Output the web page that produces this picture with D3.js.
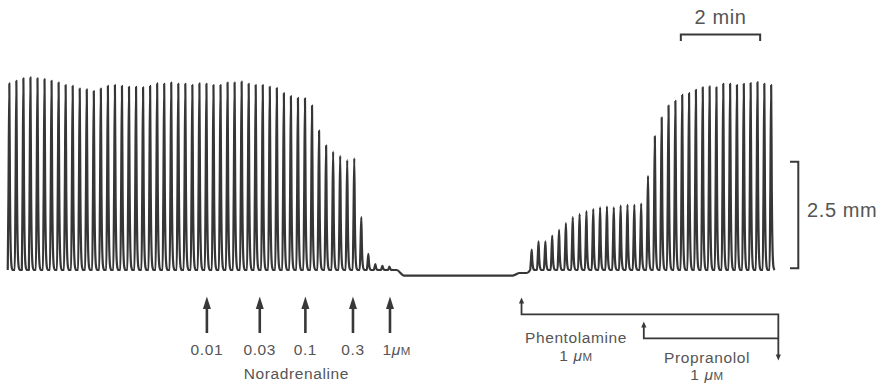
<!DOCTYPE html>
<html>
<head>
<meta charset="utf-8">
<script src="https://cdn.jsdelivr.net/npm/d3@7"></script>
<style>
  html, body { margin: 0; padding: 0; background: #fff; }
  svg { display: block; }
  .lbl { font-family: "Liberation Sans", Arial, sans-serif; fill: #555; letter-spacing: 0.6px; }
</style>
</head>
<body>
<div id="chart"></div>
<script>
// peak tension (mm) of each beat
const controlPeaks = [
  4.38, 4.44, 4.50, 4.52, 4.50, 4.48, 4.44, 4.40, 4.34, 4.32,
  4.26, 4.24, 4.20, 4.26, 4.32, 4.34, 4.32, 4.30, 4.30, 4.29,
  4.32, 4.38, 4.37, 4.40, 4.37, 4.37, 4.34, 4.38, 4.37, 4.34,
  4.34, 4.40, 4.40, 4.42, 4.37, 4.34, 4.34, 4.30, 4.27, 4.15,
  4.08, 4.04, 4.03, 3.86, 3.27, 2.92, 2.78, 2.68, 2.58, 2.62,
  1.24, 0.38, 0.14, 0.10, 0.08
];
const recoveryPeaks = [
  0.48, 0.67, 0.67, 0.81, 0.94, 1.10, 1.24, 1.31, 1.38, 1.43,
  1.47, 1.49, 1.47, 1.51, 1.53, 1.53, 1.56, 2.21, 3.14, 3.58,
  3.86, 3.97, 4.11, 4.15, 4.23, 4.29, 4.31, 4.29, 4.37, 4.37,
  4.34, 4.37, 4.39, 4.41, 4.37, 4.34
];
// beat timing (s)
const controlStart = 14.1, controlPeriod = 10.65;
const recoveryStart = 804.4, recoveryPeriod = 10.35;
// quiescent stretch between the two runs: [time s, tension mm]
const quiescent = [[600, 0], [611, -0.13], [776, -0.13], [786, -0.07], [797, -0.07]];

// drug additions
const noradDoses = ['0.01', '0.03', '0.1', '0.3', '1'];
const noradTimes = [313, 393, 462, 534, 590];
const phentolamineTime = 789;
const propranololTime = 974;
const washoutTime = 1177.5;

// calibration bars
const timeBar = [1030, 1150];   // 2 min
const tensionBar = [0.04, 2.54]; // 2.5 mm

// one beat: [offset s, fraction of peak]
const beatShape = [[-2.4, 0], [-1.3, 0.4], [0, 1], [1.0, 0.42], [2.3, 0.09], [3.6, 0.015], [5.2, 0]];

const width = 884, height = 385;
const x = d3.scaleLinear().domain([0, 1200]).range([0, 793.2]);
const y = d3.scaleLinear().domain([0, 2.5]).range([270, 163.5]);

const svg = d3.select('#chart').append('svg')
  .attr('width', width)
  .attr('height', height);

// build the trace
function beats(peaks, start, period) {
  let pts = [];
  peaks.forEach((a, i) => {
    let t0 = start + i * period;
    beatShape.forEach(s => pts.push([t0 + s[0], a * s[1]]));
  });
  return pts;
}
let trace = []
  .concat(beats(controlPeaks, controlStart, controlPeriod))
  .concat(quiescent)
  .concat(beats(recoveryPeaks, recoveryStart, recoveryPeriod));

let line = d3.line()
  .x(d => x(d[0]))
  .y(d => y(d[1]))
  .curve(d3.curveMonotoneX);

svg.append('path')
  .datum(trace)
  .attr('d', line)
  .attr('fill', 'none')
  .attr('stroke', '#363636')
  .attr('stroke-width', 2.2)
  .attr('stroke-linejoin', 'round');

// noradrenaline arrows
let ink = '#383838';
let nor = svg.append('g');
noradTimes.forEach((t, i) => {
  let cx = x(t);
  nor.append('line')
    .attr('x1', cx).attr('x2', cx)
    .attr('y1', 333).attr('y2', 306)
    .attr('stroke', ink).attr('stroke-width', 2.6);
  nor.append('path')
    .attr('d', `M${cx},296.5 L${cx - 4},309 L${cx + 4},309 Z`)
    .attr('fill', ink);
  if (i < noradDoses.length - 1) {
    nor.append('text').attr('class', 'lbl')
      .attr('x', cx).attr('y', 355)
      .attr('text-anchor', 'middle')
      .attr('font-size', 15.5)
      .text(noradDoses[i]);
  } else {
    let tx = nor.append('text').attr('class', 'lbl')
      .attr('x', cx - 7.5).attr('y', 355)
      .attr('font-size', 15.5);
    tx.append('tspan').text(noradDoses[i]);
    tx.append('tspan').attr('font-style', 'italic').text('\u03bc');
    tx.append('tspan').attr('font-size', 11.5).text('M');
  }
});
nor.append('text').attr('class', 'lbl')
  .attr('x', (x(noradTimes[1]) + x(noradTimes[3])) / 2 - 10)
  .attr('y', 379)
  .attr('text-anchor', 'middle')
  .attr('font-size', 15.5)
  .text('Noradrenaline');

// antagonist brackets
let xe = x(washoutTime);
let ant = svg.append('g').attr('fill', 'none').attr('stroke', ink).attr('stroke-width', 1.8);
ant.append('path').attr('d', `M${x(phentolamineTime)},302 V314.3 H${xe} V355`);
ant.append('path').attr('d', `M${x(propranololTime)},326 V338.3 H${xe}`);
let heads = svg.append('g').attr('fill', ink);
heads.append('path').attr('d', `M${x(phentolamineTime)},297.5 l-2.6,6 h5.2 Z`);
heads.append('path').attr('d', `M${x(propranololTime)},321.5 l-2.6,6 h5.2 Z`);
heads.append('path').attr('d', `M${xe},360.5 l-2.6,-6 h5.2 Z`);

function unitLabel(cx, cy, name) {
  svg.append('text').attr('class', 'lbl')
    .attr('x', cx).attr('y', cy)
    .attr('text-anchor', 'middle')
    .attr('font-size', 15.5)
    .text(name);
  let t = svg.append('text').attr('class', 'lbl')
    .attr('x', cx).attr('y', cy + 17.5)
    .attr('text-anchor', 'middle')
    .attr('font-size', 15.5);
  t.append('tspan').text('1 ');
  t.append('tspan').attr('font-style', 'italic').text('\u03bc');
  t.append('tspan').attr('font-size', 11.5).text('M');
}
unitLabel(576, 343, 'Phentolamine');
unitLabel(707, 362.5, 'Propranolol');

// calibration: time
let cal = svg.append('g').attr('fill', 'none').attr('stroke', ink).attr('stroke-width', 2);
cal.append('path')
  .attr('d', `M${x(timeBar[0])},41 V34.5 H${x(timeBar[1])} V41`);
svg.append('text').attr('class', 'lbl')
  .attr('x', (x(timeBar[0]) + x(timeBar[1])) / 2)
  .attr('y', 23.5)
  .attr('text-anchor', 'middle')
  .attr('font-size', 20)
  .text('2 min');

// calibration: tension
cal.append('path')
  .attr('d', `M790,${y(tensionBar[1])} H798.3 V${y(tensionBar[0])} H790`);
svg.append('text').attr('class', 'lbl')
  .attr('x', 807)
  .attr('y', 217)
  .attr('font-size', 20)
  .text('2.5 mm');
</script>
</body>
</html>
